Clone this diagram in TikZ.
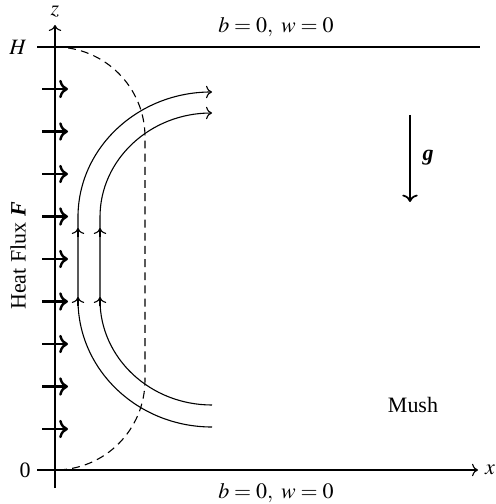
\documentclass[tikz,border=0pt]{standalone}
\usepackage{mathptmx}
\usepackage{fontspec}
\setmainfont{Liberation Serif}
\usepackage{tikz}
\usetikzlibrary{arrows.meta, positioning, calc}
\tikzstyle{flux}=[->, line width=1.1pt, color=black]

\begin{document}
\begin{tikzpicture}[x=0.016cm, y=-0.016cm,
  axis/.style={->, line width=0.5pt},
  stream/.style={line width=0.5pt},
  lbl/.style={inner sep=1pt, font=\normalsize}
]
\useasboundingbox (0,0) rectangle (496,504);

% Axes and top boundary
\draw[axis] (55,488) -- (55,25);
\draw[axis] (37,470) -- (478,470);
\draw[line width=0.5pt] (37,47) -- (480,47);
\node[lbl] (zlab) at (55,12) {$z$};
\node[lbl] (xlab) at (490,470) {$x$};
\node[lbl] (hlab) at (18,47) {$H$};
\node[lbl] (olab) at (25,470) {0};

% Boundary conditions
\node[lbl] (topbc) at (276,27) {$b=0,\ w=0$};
\node[lbl] (botbc) at (276,493) {$b=0,\ w=0$};

% Heat flux
\foreach \k in {0,...,8}
  \draw[flux] (42,89+42.5*\k) -- (68,89+42.5*\k);
\node[lbl, rotate=90] (fluxlab) at (18,256) {Heat Flux \textbf{\textit{F}}};

% Mush--liquid interface
\draw[dash pattern=on 3.6pt off 2.4pt, line width=0.5pt] (55,47) arc[start angle=270, end angle=360, radius=90]
  -- (145,380) arc[start angle=0, end angle=90, radius=90];

% Streamlines
\draw[stream, ->] (212,427) arc[start angle=90, end angle=180, x radius=134, y radius=127]
  -- (78,217) arc[start angle=180, end angle=270, x radius=134, y radius=125];
\draw[stream, ->] (212,405) arc[start angle=90, end angle=180, x radius=112, y radius=105]
  -- (100,217) arc[start angle=180, end angle=270, x radius=112, y radius=104];
\foreach \xs in {78,100} {
  \draw[stream, ->] (\xs,306) -- (\xs,297);
  \draw[stream, ->] (\xs,237) -- (\xs,228);
}

% Gravity
\draw[->, line width=0.8pt] (410,115) -- (410,202);
\node[lbl] (glab) at (428,158) {\textbf{\textit{g}}};

\node[lbl] (mush) at (413,405) {Mush};
\end{tikzpicture}
\end{document}
